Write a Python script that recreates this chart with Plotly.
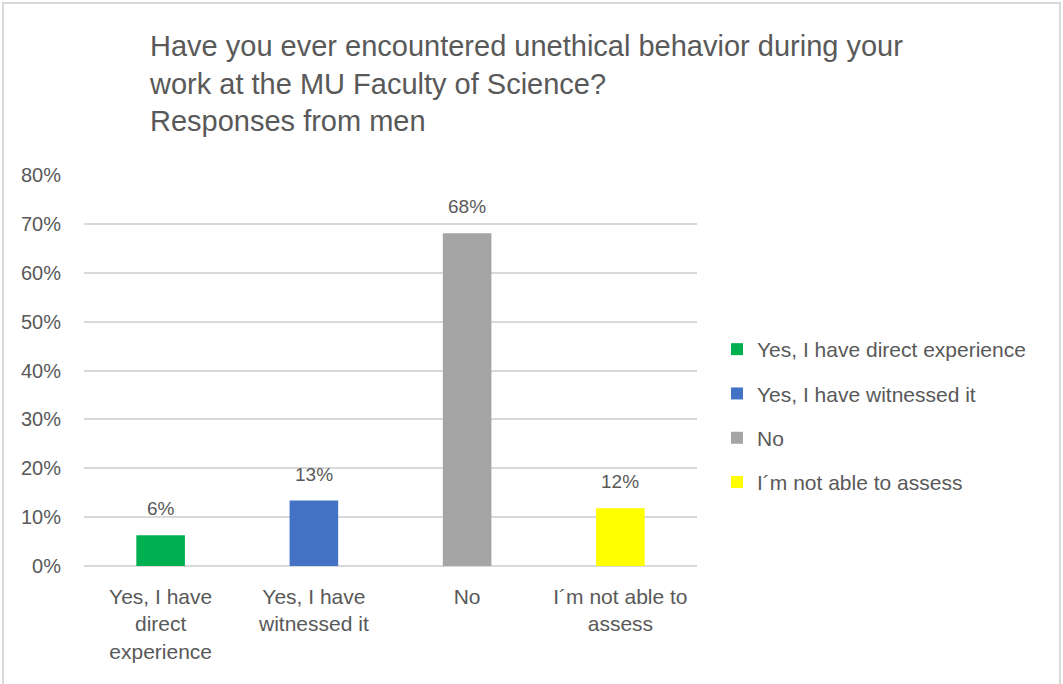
import plotly.graph_objects as go

categories = ["Yes, I have direct experience", "Yes, I have witnessed it", "No", "I´m not able to assess"]
tick_labels = ["Yes, I have<br>direct<br>experience", "Yes, I have<br>witnessed it", "No", "I´m not able to<br>assess"]
values = [0.063, 0.134, 0.681, 0.118]
colors = ["#00B050", "#4472C4", "#A5A5A5", "#FFFF00"]
y_ticks = [0, 0.1, 0.2, 0.3, 0.4, 0.5, 0.6, 0.7, 0.8]

FONT = "Liberation Sans Narrow, Liberation Sans, Arial"
GREY = "#595959"

fig = go.Figure()
for i, (cat, v, c) in enumerate(zip(categories, values, colors)):
    fig.add_trace(go.Bar(
        x=[tick_labels[i]], y=[v], name=cat, marker=dict(color=c, line=dict(width=0)),
        width=0.317, legendgroup=cat,
    ))
    fig.add_annotation(x=tick_labels[i], y=v, text=f"{v:.0%}", showarrow=False,
                       yanchor="bottom", yshift=14,
                       font=dict(size=19, color=GREY, family=FONT))

W, H = 1063, 684
L, R, T, B = 84, 697, 175, 566
fig.update_layout(
    width=W, height=H,
    margin=dict(l=L, r=W - R, t=T, b=H - B),
    paper_bgcolor="white", plot_bgcolor="white",
    barmode="overlay",
    font=dict(family=FONT, color=GREY, size=18),
    title=dict(
        text="Have you ever encountered unethical behavior during your<br>work at the MU Faculty of Science?<br>Responses from men",
        x=150 / W, xanchor="left", xref="container",
        y=1 - 56 / H, yanchor="top", yref="container",
        font=dict(size=29, color=GREY, family=FONT),
    ),
    xaxis=dict(
        categoryorder="array", categoryarray=tick_labels,
        showgrid=False, zeroline=False, showline=False, ticks="",
        ticklabelstandoff=16,
        tickfont=dict(size=21, color=GREY, family=FONT),
    ),
    yaxis=dict(
        range=[0, 0.8], tickvals=y_ticks, tickformat=".0%",
        showgrid=True, gridcolor="#D9D9D9", gridwidth=1.5,
        zeroline=True, zerolinecolor="#D9D9D9", zerolinewidth=1.5,
        showline=False, ticks="", ticklabelstandoff=22,
        tickfont=dict(size=20, color=GREY, family=FONT),
    ),
    legend=dict(
        x=(717 - L) / (R - L), xanchor="left",
        y=(B - 416) / (B - T), yanchor="middle",
        font=dict(size=21, color=GREY, family=FONT),
        traceorder="grouped", tracegroupgap=14,
        itemwidth=30, bgcolor="rgba(0,0,0,0)",
    ),
)

px = lambda x: (x - L) / (R - L)
py = lambda y: (B - y) / (B - T)
fig.add_shape(type="rect", xref="paper", yref="paper",
              x0=px(3), x1=px(1060), y0=py(700), y1=py(3),
              line=dict(color="#D9D9D9", width=2), fillcolor="rgba(0,0,0,0)", layer="below")

fig.write_html("out.html", config={"displayModeBar": False},
               post_script="document.body.style.margin='0';")
